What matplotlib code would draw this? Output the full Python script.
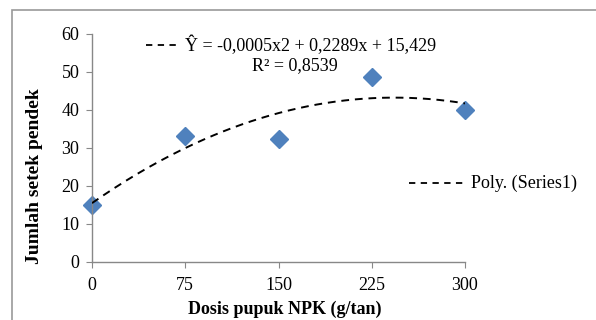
import numpy as np
import matplotlib.pyplot as plt
from matplotlib.lines import Line2D
from matplotlib.patches import Rectangle

plt.rcParams['font.family'] = ['Liberation Serif', 'DejaVu Serif']

# Data
dosis = np.array([0, 75, 150, 225, 300])
setek = np.array([15.0, 33.2, 32.5, 48.8, 40.0])
xticks = [0, 75, 150, 225, 300]
yticks = [0, 10, 20, 30, 40, 50, 60]

fig = plt.figure(figsize=(5.96, 3.2), dpi=100)

# outer chart border
fig.patches.append(Rectangle((12 / 596, -0.05), 1.2, 1 - 10 / 320 + 0.05,
                             transform=fig.transFigure, fill=False,
                             edgecolor='#999999', linewidth=1.2))

ax = fig.add_axes([92 / 596, 1 - 262 / 320, (465 - 92) / 596, (262 - 34) / 320])

# polynomial trendline (order 2) fitted to the data
coef = np.polyfit(dosis, setek, 2)
xs = np.linspace(0, 300, 200)
ax.plot(xs, np.polyval(coef, xs), color='black', linestyle=(0, (4, 3)),
        linewidth=1.4, zorder=3)

ax.plot(dosis, setek, linestyle='none', marker='D', markersize=9,
        color='#4F81BD', markeredgecolor='#4F81BD', zorder=2, clip_on=False)

ax.set_xlim(0, 300)
ax.set_ylim(0, 60)
ax.set_xticks(xticks)
ax.set_yticks(yticks)
ax.tick_params(direction='out', length=4, color='#888888', labelsize=13, pad=5)
ax.tick_params(axis='x', pad=7)
for s in ['top', 'right']:
    ax.spines[s].set_visible(False)
for s in ['left', 'bottom']:
    ax.spines[s].set_color('#888888')
    ax.spines[s].set_linewidth(1.0)

ax.set_xlabel('Dosis pupuk NPK (g/tan)', fontsize=13, fontweight='bold')
ax.set_ylabel('Jumlah setek pendek', fontsize=14, fontweight='bold')
ax.xaxis.set_label_coords(0.517, -0.17)
ax.yaxis.set_label_coords(-0.131, 0.377)

# trendline label
fig.add_artist(Line2D([146 / 596, 178 / 596], [1 - 45 / 320] * 2, color='black',
                      linestyle=(0, (3.5, 3)), linewidth=1.3, transform=fig.transFigure))
fig.text(185 / 596, 1 - 45 / 320, 'Ŷ = -0,0005x2 + 0,2289x + 15,429',
         fontsize=13, va='center', ha='left')
fig.text(295 / 596, 1 - 66 / 320, 'R² = 0,8539', fontsize=13, va='center', ha='center')

# legend
fig.add_artist(Line2D([409 / 596, 466 / 596], [1 - 183 / 320] * 2, color='black',
                      linestyle=(0, (3.5, 3)), linewidth=1.3, transform=fig.transFigure))
fig.text(471 / 596, 1 - 183 / 320, 'Poly. (Series1)', fontsize=13, va='center', ha='left')

fig.savefig('out.png', dpi=100)
